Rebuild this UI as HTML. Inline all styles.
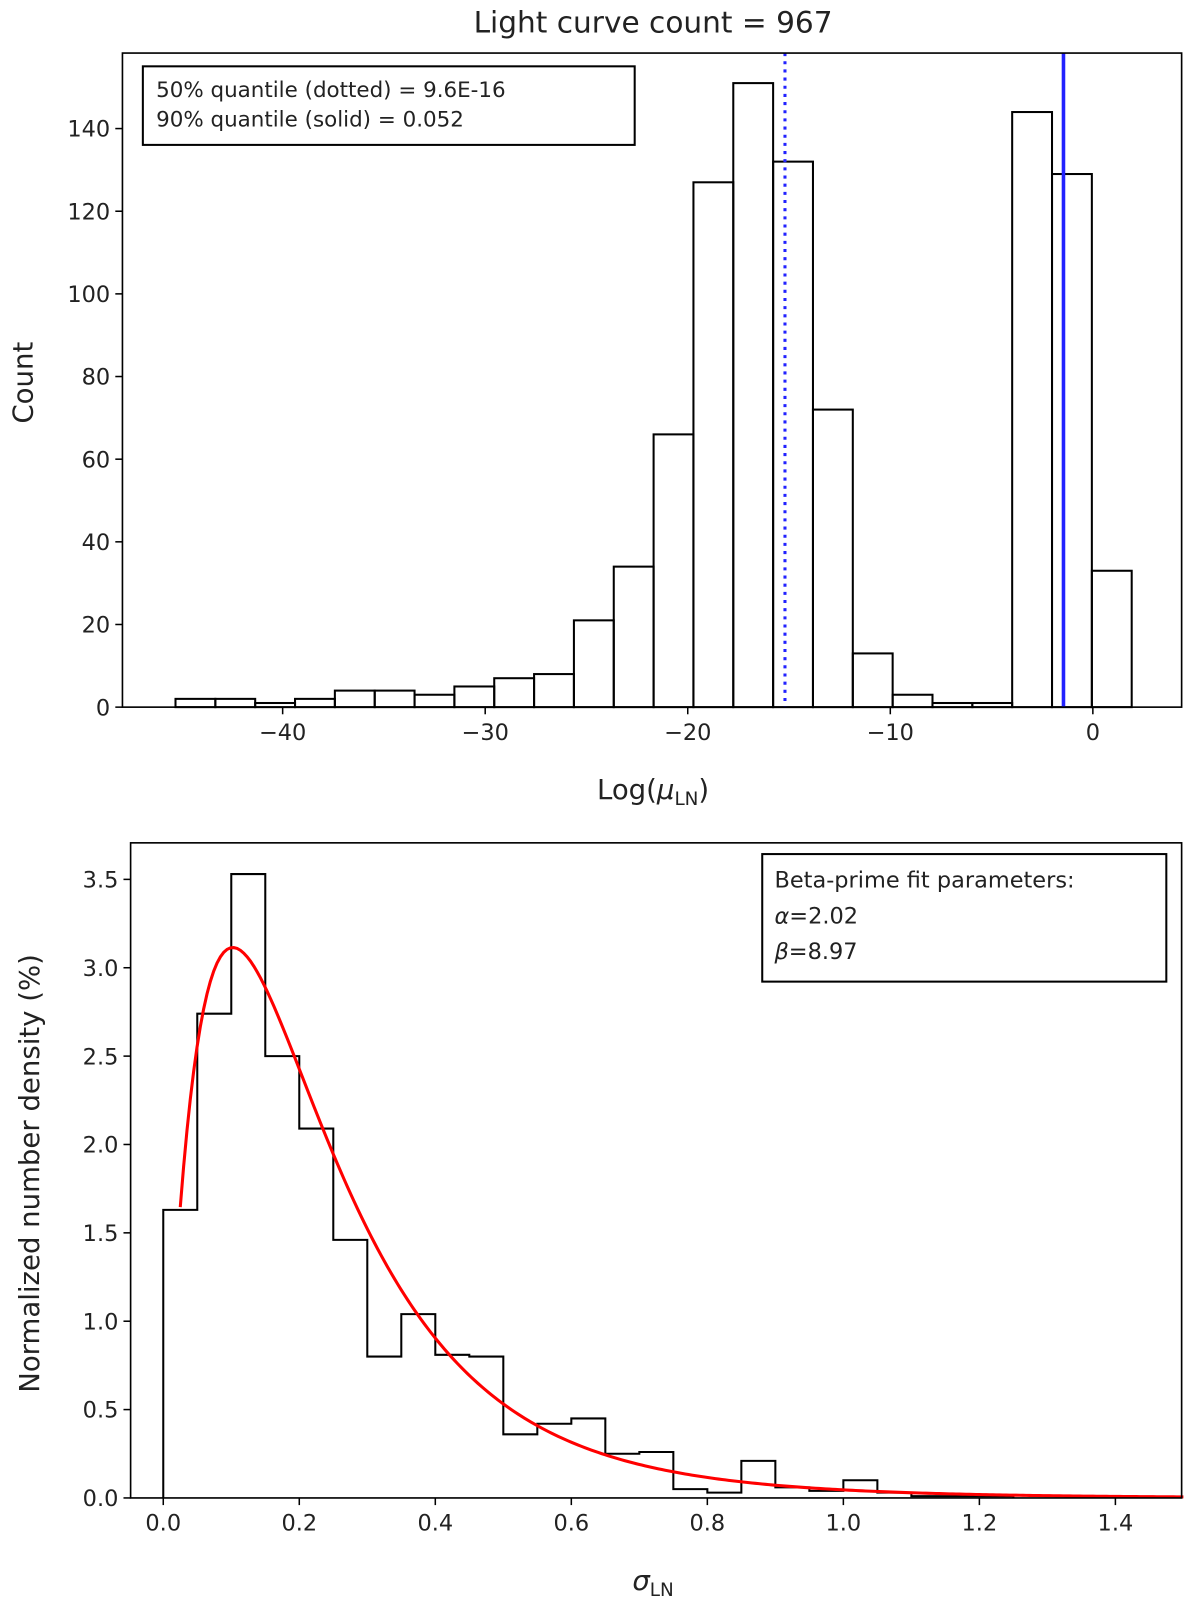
<!DOCTYPE html>
<html><head><meta charset="utf-8"><style>
body{margin:0;background:#fff;}
svg text{font-family:"DejaVu Sans","Liberation Sans",sans-serif;fill:#222;}
</style></head><body>
<svg id="fig" width="1200" height="1599" xmlns="http://www.w3.org/2000/svg">
<g transform="scale(1.0204)">
<text x="640" y="32" font-size="29" text-anchor="middle">Light curve count = 967</text>
<g id="top"></g>
<g id="bot"></g>
</g>
</svg>
<script>
const topCounts=[2,2,1,2,4,4,3,5,7,8,21,34,66,127,151,132,72,13,3,1,1,144,129,33];
const topBinStart=-45.29, topBinWidth=1.967;
const topXTicks=[-40,-30,-20,-10,0];
const topYTicks=[0,20,40,60,80,100,120,140];
const q50=-15.2, q90=-1.45;
const botDensity=[1.63,2.74,3.53,2.50,2.09,1.46,0.80,1.04,0.81,0.80,0.36,0.42,0.45,0.25,0.26,0.05,0.03,0.21,0.06,0.04,0.10,0.03,0.01,0.01,0.01];
const botBinWidth=0.05;
const botXTicks=[0.0,0.2,0.4,0.6,0.8,1.0,1.2,1.4];
const botYTicks=[0.0,0.5,1.0,1.5,2.0,2.5,3.0,3.5];
const fitAlpha=2.02, fitBeta=8.97;

const NS='http://www.w3.org/2000/svg';
function mk(parent,tag,attrs,text){const e=document.createElementNS(NS,tag);for(const k in attrs)e.setAttribute(k,attrs[k]);if(text!==undefined)e.textContent=text;parent.appendChild(e);return e;}
const TF=22;
// top
const T=document.getElementById('top');
const tL=120,tR=1158,tT=52,tB=693;
const tx=v=>277+(v+40)*19.85;
const ty=v=>693-v*4.05;
topCounts.forEach((c,i)=>{
 const x0=tx(topBinStart+i*topBinWidth),x1=tx(topBinStart+(i+1)*topBinWidth);
 const r=mk(T,'rect',{x:x0,y:ty(c),width:x1-x0,height:ty(0)-ty(c),fill:'none',stroke:'#000','stroke-width':2});
 
 
});
let l=mk(T,'line',{x1:tx(q50),x2:tx(q50),y1:tT,y2:tB,stroke:'#2222ff','stroke-width':3,'stroke-dasharray':'3,5'});

l=mk(T,'line',{x1:tx(q90),x2:tx(q90),y1:tT,y2:tB,stroke:'#2222ff','stroke-width':3.5});

let fr=mk(T,'rect',{x:tL,y:tT,width:tR-tL,height:tB-tT,fill:'none',stroke:'#000','stroke-width':1.6});

topXTicks.forEach(v=>{mk(T,'line',{x1:tx(v),x2:tx(v),y1:tB,y2:tB+7,stroke:'#000','stroke-width':1.5});
 const t=mk(T,'text',{x:tx(v),y:tB+32,'font-size':TF,'text-anchor':'middle'},v<0?'\u2212'+(-v):String(v));
 });
topYTicks.forEach(v=>{mk(T,'line',{x1:tL-7,x2:tL,y1:ty(v),y2:ty(v),stroke:'#000','stroke-width':1.5});
 const t=mk(T,'text',{x:tL-12,y:ty(v)+8,'font-size':TF,'text-anchor':'end'},String(v));
 });
let a=mk(T,'text',{x:640,y:783,'font-size':27,'text-anchor':'middle'});
a.innerHTML='Log(<tspan font-style="italic">μ</tspan><tspan font-size="18" dy="6">LN</tspan><tspan dy="-6">)</tspan>';

a=mk(T,'text',{x:0,y:0,'font-size':27,'text-anchor':'middle',transform:'translate(32,375) rotate(-90)'},'Count');

const lg=mk(T,'g',{});
mk(lg,'rect',{x:140,y:65,width:482,height:77,fill:'#fff',stroke:'#000','stroke-width':2});
mk(lg,'text',{x:153,y:95,'font-size':21},'50% quantile (dotted) = 9.6E-16');
mk(lg,'text',{x:153,y:124,'font-size':21},'90% quantile (solid) = 0.052');

// bottom
const B=document.getElementById('bot');
const bL=128,bR=1158,bT=826,bB=1468;
const bx=v=>160+v*666.5;
const by=v=>1468-v*173.2;
let d='M'+bx(0)+','+by(0);
botDensity.forEach((v,i)=>{d+=' L'+bx(i*botBinWidth)+','+by(v)+' L'+bx((i+1)*botBinWidth)+','+by(v);});
d+=' L'+bx(botDensity.length*botBinWidth)+','+by(0);
let p=mk(B,'path',{d:d,fill:'none',stroke:'#000','stroke-width':2});

function lgamma(z){const g=7,c=[0.99999999999980993,676.5203681218851,-1259.1392167224028,771.32342877765313,-176.61502916214059,12.507343278686905,-0.13857109526572012,9.9843695780195716e-6,1.5056327351493116e-7];
 z-=1;let x=c[0];for(let i=1;i<9;i++)x+=c[i]/(z+i);const t=z+g+0.5;return 0.5*Math.log(2*Math.PI)+(z+0.5)*Math.log(t)-t+Math.log(x);}
const lnB=lgamma(fitAlpha)+lgamma(fitBeta)-lgamma(fitAlpha+fitBeta);
let cd='';
for(let i=0;i<=300;i++){const x=0.025+i*(1.5-0.025)/300;
 const f=Math.exp((fitAlpha-1)*Math.log(x)-(fitAlpha+fitBeta)*Math.log(1+x)-lnB);
 cd+=(i?' L':'M')+bx(x).toFixed(2)+','+by(f).toFixed(2);}
p=mk(B,'path',{d:cd,fill:'none',stroke:'#ff0000','stroke-width':3});

fr=mk(B,'rect',{x:bL,y:bT,width:bR-bL,height:bB-bT,fill:'none',stroke:'#000','stroke-width':1.6});

botXTicks.forEach(v=>{mk(B,'line',{x1:bx(v),x2:bx(v),y1:bB,y2:bB+7,stroke:'#000','stroke-width':1.5});
 const t=mk(B,'text',{x:bx(v),y:bB+32,'font-size':TF,'text-anchor':'middle'},v.toFixed(1));
 });
botYTicks.forEach(v=>{mk(B,'line',{x1:bL-7,x2:bL,y1:by(v),y2:by(v),stroke:'#000','stroke-width':1.5});
 const t=mk(B,'text',{x:bL-12,y:by(v)+8,'font-size':TF,'text-anchor':'end'},v.toFixed(1));
 });
a=mk(B,'text',{x:640,y:1558,'font-size':27,'text-anchor':'middle'});
a.innerHTML='<tspan font-style="italic">σ</tspan><tspan font-size="18" dy="6">LN</tspan>';

a=mk(B,'text',{x:0,y:0,'font-size':27,'text-anchor':'middle',transform:'translate(38,1150) rotate(-90)'},'Normalized number density (%)');

const lg2=mk(B,'g',{});
mk(lg2,'rect',{x:747,y:837,width:396,height:125,fill:'#fff',stroke:'#000','stroke-width':2});
mk(lg2,'text',{x:759,y:870,'font-size':22},'Beta-prime fit parameters:');
a=mk(lg2,'text',{x:759,y:905,'font-size':22});a.innerHTML='<tspan font-style="italic">α</tspan>=2.02';
a=mk(lg2,'text',{x:759,y:940,'font-size':22});a.innerHTML='<tspan font-style="italic">β</tspan>=8.97';
</script>
</body></html>
